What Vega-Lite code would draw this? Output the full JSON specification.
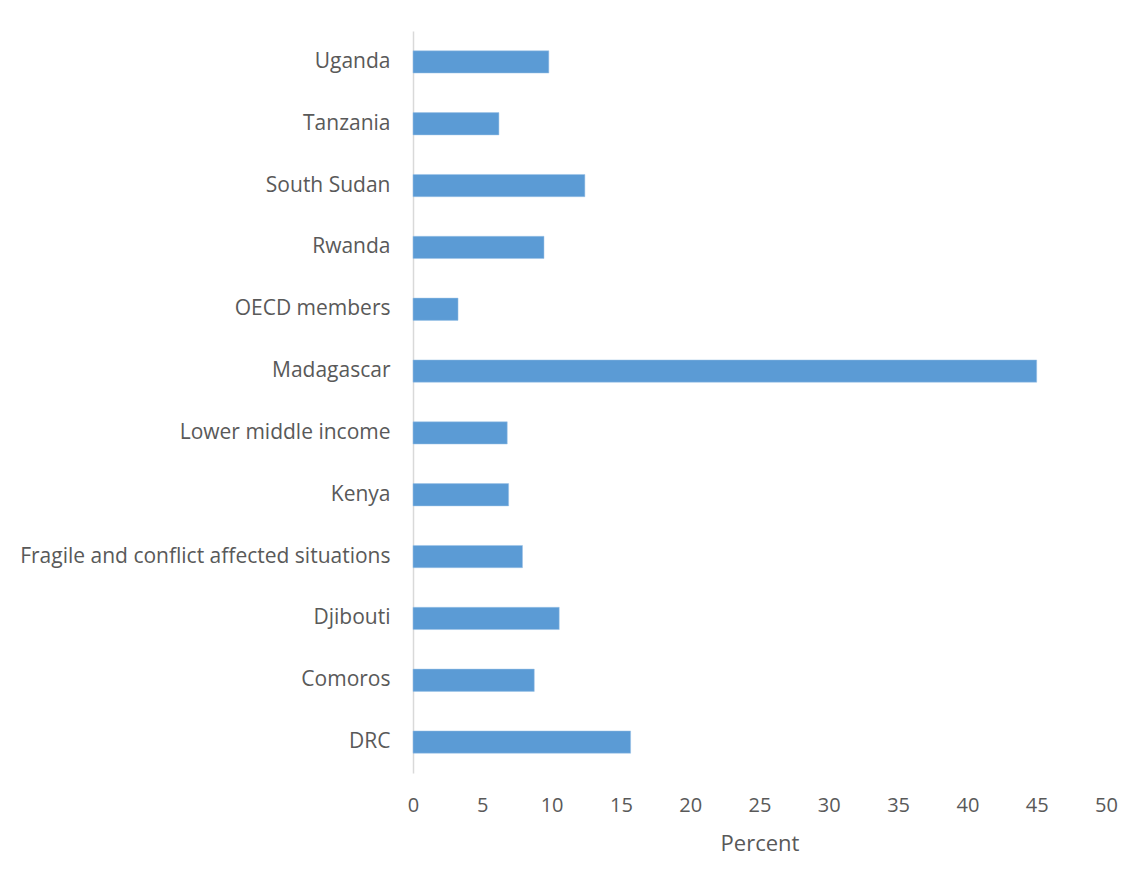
{
  "$schema": "https://vega.github.io/schema/vega-lite/v6.json",
  "width": 693,
  "height": 742,
  "autosize": {"type": "none"},
  "padding": {"left": 413, "top": 31, "right": 42, "bottom": 119},
  "background": "white",
  "data": {
    "values": [
      {"country": "Uganda", "value": 9.8},
      {"country": "Tanzania", "value": 6.2},
      {"country": "South Sudan", "value": 12.4},
      {"country": "Rwanda", "value": 9.45},
      {"country": "OECD members", "value": 3.25},
      {"country": "Madagascar", "value": 45.0},
      {"country": "Lower middle income", "value": 6.8},
      {"country": "Kenya", "value": 6.9},
      {"country": "Fragile and conflict affected situations", "value": 7.9},
      {"country": "Djibouti", "value": 10.55},
      {"country": "Comoros", "value": 8.75},
      {"country": "DRC", "value": 15.7}
    ]
  },
  "mark": {"type": "bar", "color": "#5b9bd5", "stroke": "#9dc3e6", "strokeWidth": 0.5},
  "encoding": {
    "y": {
      "field": "country",
      "type": "nominal",
      "sort": ["Uganda", "Tanzania", "South Sudan", "Rwanda", "OECD members", "Madagascar", "Lower middle income", "Kenya", "Fragile and conflict affected situations", "Djibouti", "Comoros", "DRC"],
      "scale": {"paddingInner": 0.64, "paddingOuter": 0.32},
      "axis": {
        "title": null,
        "ticks": false,
        "domainColor": "#d9d9d9",
        "domainWidth": 1.5,
        "labelFont": "Open Sans",
        "labelFontSize": 21,
        "labelColor": "#595959",
        "labelPadding": 23,
        "labelLimit": 420
      }
    },
    "x": {
      "field": "value",
      "type": "quantitative",
      "scale": {"domain": [0, 50], "nice": false},
      "axis": {
        "values": [0, 5, 10, 15, 20, 25, 30, 35, 40, 45, 50],
        "title": "Percent",
        "grid": false,
        "domain": false,
        "ticks": false,
        "labelFlush": false,
        "labelFont": "Open Sans",
        "labelFontSize": 20,
        "labelColor": "#595959",
        "labelPadding": 22,
        "titleFont": "Open Sans",
        "titleFontSize": 22,
        "titleFontWeight": "normal",
        "titleColor": "#595959",
        "titlePadding": 18
      }
    }
  },
  "config": {"view": {"stroke": null}}
}
